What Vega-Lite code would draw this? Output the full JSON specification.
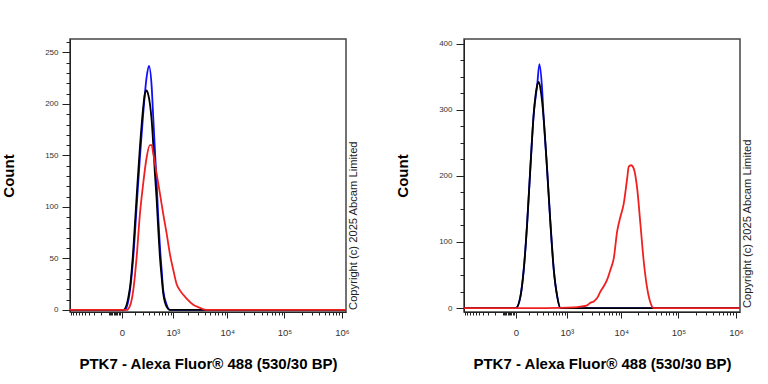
{
  "$schema": "https://vega.github.io/schema/vega-lite/v6.json",
  "padding": {"left": 0, "top": 37, "right": 5, "bottom": 5},
  "config": {
    "font": "Liberation Sans",
    "view": {"stroke": "#444", "strokeWidth": 1.5},
    "axis": {"grid": false, "domainColor": "#222", "tickColor": "#222", "labelColor": "#333", "labelFontSize": 8, "titleFontSize": 15, "titleFontWeight": "bold", "titleColor": "#000", "labelOverlap": false, "labelFlush": false, "labelBound": false, "tickCount": 1000},
    "line": {"strokeWidth": 1.8, "interpolate": "monotone"}
  },
  "datasets": {
    "left": [
      {"s": "Control", "x": -1050, "y": 0}, {"s": "Control", "x": 19, "y": 0}, {"s": "Control", "x": 57, "y": 19}, {"s": "Control", "x": 86, "y": 51}, {"s": "Control", "x": 120, "y": 100}, {"s": "Control", "x": 158, "y": 148}, {"s": "Control", "x": 202, "y": 191}, {"s": "Control", "x": 253, "y": 226}, {"s": "Control", "x": 292, "y": 237}, {"s": "Control", "x": 343, "y": 217}, {"s": "Control", "x": 375, "y": 187}, {"s": "Control", "x": 412, "y": 155}, {"s": "Control", "x": 452, "y": 123}, {"s": "Control", "x": 492, "y": 90}, {"s": "Control", "x": 537, "y": 61}, {"s": "Control", "x": 585, "y": 39}, {"s": "Control", "x": 634, "y": 19}, {"s": "Control", "x": 749, "y": 5}, {"s": "Control", "x": 876, "y": 0}, {"s": "Control", "x": 1180000, "y": 0},
      {"s": "Isotype", "x": -1050, "y": 0}, {"s": "Isotype", "x": 8, "y": 0}, {"s": "Isotype", "x": 57, "y": 22}, {"s": "Isotype", "x": 86, "y": 58}, {"s": "Isotype", "x": 120, "y": 110}, {"s": "Isotype", "x": 158, "y": 158}, {"s": "Isotype", "x": 202, "y": 197}, {"s": "Isotype", "x": 227, "y": 210}, {"s": "Isotype", "x": 253, "y": 213}, {"s": "Isotype", "x": 275, "y": 210}, {"s": "Isotype", "x": 310, "y": 200}, {"s": "Isotype", "x": 343, "y": 184}, {"s": "Isotype", "x": 375, "y": 161}, {"s": "Isotype", "x": 412, "y": 132}, {"s": "Isotype", "x": 452, "y": 107}, {"s": "Isotype", "x": 492, "y": 78}, {"s": "Isotype", "x": 537, "y": 51}, {"s": "Isotype", "x": 585, "y": 32}, {"s": "Isotype", "x": 634, "y": 16}, {"s": "Isotype", "x": 749, "y": 3}, {"s": "Isotype", "x": 876, "y": 0}, {"s": "Isotype", "x": 1180000, "y": 0},
      {"s": "PTK7", "x": -1050, "y": 0}, {"s": "PTK7", "x": 31, "y": 0}, {"s": "PTK7", "x": 57, "y": 4}, {"s": "PTK7", "x": 86, "y": 19}, {"s": "PTK7", "x": 120, "y": 51}, {"s": "PTK7", "x": 158, "y": 93}, {"s": "PTK7", "x": 202, "y": 123}, {"s": "PTK7", "x": 253, "y": 148}, {"s": "PTK7", "x": 310, "y": 160}, {"s": "PTK7", "x": 343, "y": 160}, {"s": "PTK7", "x": 375, "y": 152}, {"s": "PTK7", "x": 452, "y": 132}, {"s": "PTK7", "x": 537, "y": 113}, {"s": "PTK7", "x": 634, "y": 93}, {"s": "PTK7", "x": 749, "y": 74}, {"s": "PTK7", "x": 876, "y": 54}, {"s": "PTK7", "x": 1020, "y": 39}, {"s": "PTK7", "x": 1191, "y": 25}, {"s": "PTK7", "x": 1380, "y": 19}, {"s": "PTK7", "x": 1851, "y": 11}, {"s": "PTK7", "x": 2457, "y": 5}, {"s": "PTK7", "x": 3260, "y": 2}, {"s": "PTK7", "x": 4310, "y": 0}, {"s": "PTK7", "x": 1180000, "y": 0}
    ],
    "right": [
      {"s": "Control", "x": -1050, "y": 0}, {"s": "Control", "x": 0, "y": 0}, {"s": "Control", "x": 30, "y": 18}, {"s": "Control", "x": 55, "y": 58}, {"s": "Control", "x": 85, "y": 128}, {"s": "Control", "x": 118, "y": 214}, {"s": "Control", "x": 156, "y": 294}, {"s": "Control", "x": 201, "y": 337}, {"s": "Control", "x": 234, "y": 369}, {"s": "Control", "x": 275, "y": 335}, {"s": "Control", "x": 307, "y": 285}, {"s": "Control", "x": 373, "y": 209}, {"s": "Control", "x": 447, "y": 128}, {"s": "Control", "x": 532, "y": 58}, {"s": "Control", "x": 631, "y": 18}, {"s": "Control", "x": 741, "y": 0}, {"s": "Control", "x": 1180000, "y": 0},
      {"s": "Isotype", "x": -1050, "y": 0}, {"s": "Isotype", "x": 0, "y": 0}, {"s": "Isotype", "x": 30, "y": 18}, {"s": "Isotype", "x": 55, "y": 58}, {"s": "Isotype", "x": 85, "y": 128}, {"s": "Isotype", "x": 118, "y": 214}, {"s": "Isotype", "x": 156, "y": 294}, {"s": "Isotype", "x": 201, "y": 337}, {"s": "Isotype", "x": 224, "y": 342}, {"s": "Isotype", "x": 250, "y": 332}, {"s": "Isotype", "x": 307, "y": 285}, {"s": "Isotype", "x": 373, "y": 209}, {"s": "Isotype", "x": 447, "y": 128}, {"s": "Isotype", "x": 532, "y": 58}, {"s": "Isotype", "x": 631, "y": 18}, {"s": "Isotype", "x": 741, "y": 0}, {"s": "Isotype", "x": 1180000, "y": 0},
      {"s": "PTK7", "x": -1050, "y": 0}, {"s": "PTK7", "x": 340, "y": 0}, {"s": "PTK7", "x": 1368, "y": 1}, {"s": "PTK7", "x": 1835, "y": 2}, {"s": "PTK7", "x": 2447, "y": 4}, {"s": "PTK7", "x": 2814, "y": 8}, {"s": "PTK7", "x": 3231, "y": 10}, {"s": "PTK7", "x": 3725, "y": 15}, {"s": "PTK7", "x": 4273, "y": 25}, {"s": "PTK7", "x": 4898, "y": 33}, {"s": "PTK7", "x": 5633, "y": 43}, {"s": "PTK7", "x": 6450, "y": 58}, {"s": "PTK7", "x": 7380, "y": 75}, {"s": "PTK7", "x": 8480, "y": 116}, {"s": "PTK7", "x": 9690, "y": 138}, {"s": "PTK7", "x": 11080, "y": 158}, {"s": "PTK7", "x": 12730, "y": 196}, {"s": "PTK7", "x": 13580, "y": 214}, {"s": "PTK7", "x": 14970, "y": 216}, {"s": "PTK7", "x": 16630, "y": 211}, {"s": "PTK7", "x": 19080, "y": 181}, {"s": "PTK7", "x": 21800, "y": 126}, {"s": "PTK7", "x": 24900, "y": 70}, {"s": "PTK7", "x": 28550, "y": 30}, {"s": "PTK7", "x": 32600, "y": 8}, {"s": "PTK7", "x": 37230, "y": 0}, {"s": "PTK7", "x": 1180000, "y": 0}
    ]
  },
  "spacing": 34,
  "hconcat": [
    {
      "width": 276, "height": 273,
      "layer": [
        {
          "data": {"name": "left"},
          "mark": {"type": "line", "clip": true},
          "encoding": {
            "x": {"field": "x", "type": "quantitative",
              "scale": {"type": "symlog", "constant": 150, "domain": [-1050, 1180000], "nice": false, "zero": false},
              "axis": {"title": "PTK7 - Alexa Fluor® 488 (530/30 BP)", "titlePadding": 20, "labelOverlap": false, "tickCount": 1000, "labelFontSize": 9.5,
                "values": [-1000,-900,-800,-700,-600,-500,-400,-300,-200,-100,-90,-80,-70,-60,-50,-40,-30,-20,-10,0,100,200,300,400,500,600,700,800,900,1000,2000,3000,4000,5000,6000,7000,8000,9000,10000,20000,30000,40000,50000,60000,70000,80000,90000,100000,200000,300000,400000,500000,600000,700000,800000,900000,1000000],
                "labelExpr": "datum.value == 0 ? '0' : datum.value == 1000 ? '10³' : datum.value == 10000 ? '10⁴' : datum.value == 100000 ? '10⁵' : datum.value == 1000000 ? '10⁶' : ''",
                "tickSize": {"condition": {"test": "indexof([0,1000,10000,100000,1000000], datum.value) >= 0", "value": 6}, "value": 3},
                "labelPadding": 9}},
            "y": {"field": "y", "type": "quantitative",
              "scale": {"domain": [-2, 263], "nice": false, "zero": false},
              "axis": {"title": "Count", "titlePadding": 28, "labelOverlap": false, "tickCount": 1000,
                "values": [0,10,20,30,40,50,60,70,80,90,100,110,120,130,140,150,160,170,180,190,200,210,220,230,240,250,260],
                "labelExpr": "datum.value % 50 == 0 ? format(datum.value, 'd') : ''",
                "tickSize": {"condition": {"test": "datum.value % 50 == 0", "value": 8}, "value": 4},
                "labelPadding": 4}},
            "color": {"field": "s", "type": "nominal", "scale": {"domain": ["Control", "Isotype", "PTK7"], "range": ["#1010ff", "#000000", "#f02020"]}, "legend": null}
          }
        },
        {
          "data": {"values": [{"t": "Copyright (c) 2025 Abcam Limited"}]},
          "mark": {"type": "text", "angle": 270, "align": "left", "baseline": "middle", "fontSize": 11.2, "color": "#222", "dy": 8},
          "encoding": {"text": {"field": "t"}, "x": {"datum": 1180000}, "y": {"datum": 0}}
        }
      ]
    },
    {
      "width": 276, "height": 273,
      "layer": [
        {
          "data": {"name": "right"},
          "mark": {"type": "line", "clip": true},
          "encoding": {
            "x": {"field": "x", "type": "quantitative",
              "scale": {"type": "symlog", "constant": 150, "domain": [-1050, 1180000], "nice": false, "zero": false},
              "axis": {"title": "PTK7 - Alexa Fluor® 488 (530/30 BP)", "titlePadding": 20, "labelOverlap": false, "tickCount": 1000, "labelFontSize": 9.5,
                "values": [-1000,-900,-800,-700,-600,-500,-400,-300,-200,-100,-90,-80,-70,-60,-50,-40,-30,-20,-10,0,100,200,300,400,500,600,700,800,900,1000,2000,3000,4000,5000,6000,7000,8000,9000,10000,20000,30000,40000,50000,60000,70000,80000,90000,100000,200000,300000,400000,500000,600000,700000,800000,900000,1000000],
                "labelExpr": "datum.value == 0 ? '0' : datum.value == 1000 ? '10³' : datum.value == 10000 ? '10⁴' : datum.value == 100000 ? '10⁵' : datum.value == 1000000 ? '10⁶' : ''",
                "tickSize": {"condition": {"test": "indexof([0,1000,10000,100000,1000000], datum.value) >= 0", "value": 6}, "value": 3},
                "labelPadding": 9}},
            "y": {"field": "y", "type": "quantitative",
              "scale": {"domain": [-6, 407], "nice": false, "zero": false},
              "axis": {"title": "Count", "titlePadding": 28, "labelOverlap": false, "tickCount": 1000,
                "values": [0,25,50,75,100,125,150,175,200,225,250,275,300,325,350,375,400],
                "labelExpr": "datum.value % 100 == 0 ? format(datum.value, 'd') : ''",
                "tickSize": {"condition": {"test": "datum.value % 100 == 0", "value": 8}, "value": 4},
                "labelPadding": 4}},
            "color": {"field": "s", "type": "nominal", "scale": {"domain": ["Control", "Isotype", "PTK7"], "range": ["#1010ff", "#000000", "#f02020"]}, "legend": null}
          }
        },
        {
          "data": {"values": [{"t": "Copyright (c) 2025 Abcam Limited"}]},
          "mark": {"type": "text", "angle": 270, "align": "left", "baseline": "middle", "fontSize": 11.2, "color": "#222", "dy": 8},
          "encoding": {"text": {"field": "t"}, "x": {"datum": 1180000}, "y": {"datum": 0}}
        }
      ]
    }
  ],
  "resolve": {"scale": {"x": "independent", "y": "independent", "color": "independent"}}
}
